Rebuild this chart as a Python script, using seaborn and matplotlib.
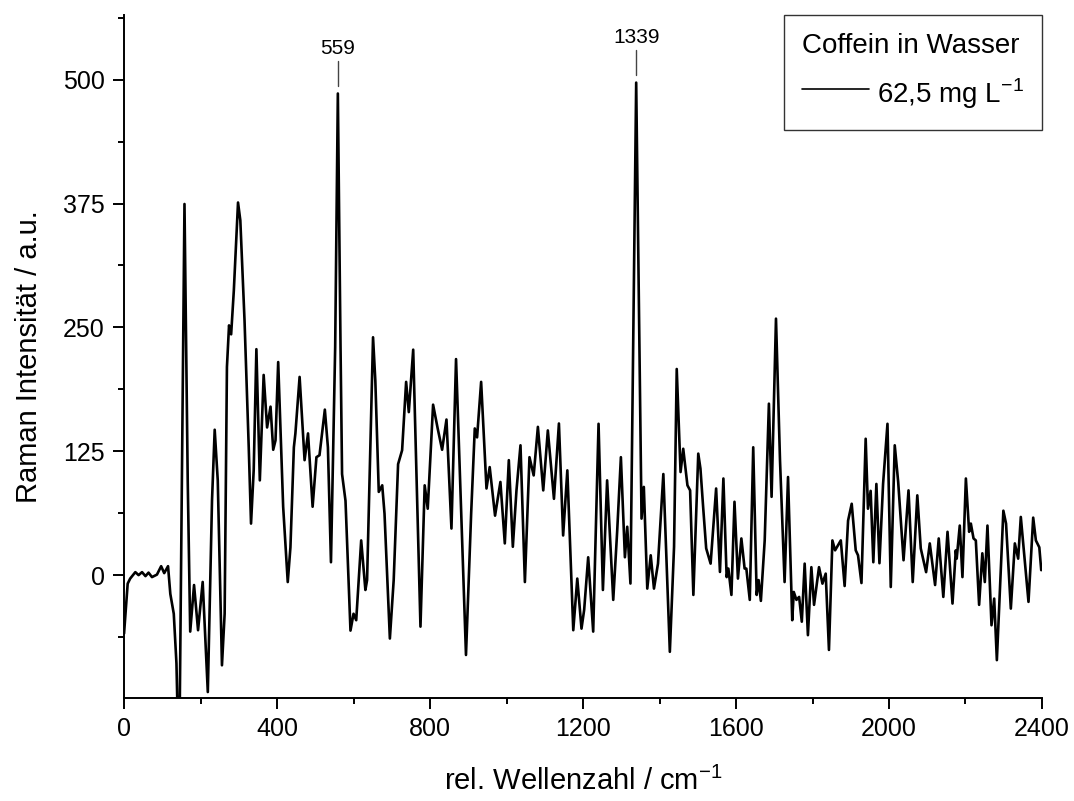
import matplotlib
matplotlib.use("Agg")
import matplotlib.pyplot as plt
import seaborn as sns
import pandas as pd
from matplotlib.ticker import MultipleLocator

# ---- data ----
wavenumber = [0, 9.5, 16, 29.5, 38, 47, 56, 64, 73, 86, 97, 105, 115, 121, 130, 137, 140, 145.5,
              158, 166.5, 173, 183, 193.5, 205.6, 219, 230, 237, 245, 256, 263, 269, 274.5, 280, 287,
              298, 304, 315, 326, 332, 339, 346, 355, 365, 374, 383, 390, 396, 403, 416, 428, 435,
              444, 448, 459, 472, 481, 493, 503, 511, 525, 533, 541, 552, 559, 566, 570, 579, 592,
              600, 607, 620, 631, 635.4, 651, 657, 666, 675, 681, 695, 705, 716.5, 727, 737.5, 744.5,
              756, 775, 786, 794, 808, 820, 831.6, 843, 856, 868, 894, 907.5, 917, 923, 933.6, 947.6,
              956, 970, 984, 995.5, 1006, 1016.5, 1026, 1036.5, 1048, 1060, 1071, 1082, 1096, 1108,
              1124, 1137, 1148, 1159, 1174.5, 1185, 1196, 1203, 1213.5, 1226.6, 1240.6, 1252, 1263,
              1279, 1289.4, 1299, 1309.5, 1315.6, 1324, 1339, 1353, 1359, 1368, 1377, 1385.5, 1396,
              1410, 1427, 1438, 1445, 1455, 1462, 1473, 1480, 1488.5, 1501.3, 1507, 1514, 1522,
              1533.6, 1548, 1558, 1567, 1575.5, 1580, 1588, 1596, 1605, 1614, 1622.5, 1627, 1636,
              1645, 1654, 1659, 1665, 1675, 1686, 1693, 1704.5, 1715, 1727, 1736, 1747, 1751, 1758,
              1765, 1772, 1779.5, 1788, 1797, 1804, 1817, 1826, 1834.5, 1843, 1852, 1859, 1874, 1884,
              1893, 1902.5, 1913, 1919, 1928, 1939, 1945, 1952, 1959, 1967, 1975, 1984.5, 1996,
              2004.6, 2015, 2024, 2038, 2051, 2062, 2074, 2083, 2097, 2106.6, 2120.5, 2130, 2142,
              2153, 2166, 2174.6, 2177, 2185, 2192, 2201, 2209.5, 2214, 2221, 2227, 2235.6, 2244,
              2250.5, 2257.4, 2268, 2275, 2282, 2299, 2306, 2318.5, 2329, 2337.7, 2344.6, 2353,
              2364.7, 2377, 2384, 2393, 2398]
intensity = [-59, -8.6, -3.5, 3, 0, 3, -1, 2.5, -2, 0.5, 9, 2, 9, -19, -39, -89, -140, -140,
             374.5, 95, -57, -10, -55.6, -6.9, -118, 75.5, 146.7, 95.6, -91, -39, 210, 252, 243, 287,
             376, 358, 257, 129, 52, 106, 228, 95.6, 202, 149, 170, 126.5, 136, 215, 69, -7, 28,
             129, 143, 200, 116, 143, 69, 119, 121, 167, 129, 13, 230, 486, 230, 102, 75, -56,
             -39, -45.5, 35, -15, -5, 240, 196, 84, 90.6, 62, -64, -5, 112, 126, 195, 164.5,
             227.5, -52, 90.6, 67, 172, 148, 126.5, 157, 47, 218, -80.6, 62, 148, 139, 195, 87.4,
             109, 60, 94, 32, 116, 28.6, 85.5, 131, -7, 119, 100.6, 149.6, 85.5, 146,
             77, 153, 40, 105.7, -55.6, -3.5, -54, -35, 18, -57, 152.7, -15, 95.6,
             -25, 45, 119, 18, 48.8, -8.5, 497, 57, 89, -13.6, 20, -13.6, 11.6,
             102, -77.4, 28.6, 208, 104, 127.5, 90.6, 85.5, -20, 122.6, 107.5, 69, 27,
             11.6, 87.4, 3.2, 97.5, -2, 6.6, -20, 74, -3.5, 37, 6.6, 6.6, -25,
             129, -20, -5, -26, 35, 173, 79, 258.8, 116, -7, 99, -45.5, -17, -25,
             -22, -47, 11.6, -60.6, 8, -30, 8, -8.6, 1.5, -75.5, 35, 25, 35, -11,
             55, 72, 25, 20, -8, 137.6, 67, 85, 13, 92, 12, 92, 152.7,
             -12, 131, 94, 15, 85.5, -7, 80.5, 27, 3, 32, -10, 37, -22,
             43.7, -28.7, 25, 16.6, 50, -2, 97.5, 43.7, 52, 37, 35, -30, 22,
             -7, 50, -50.6, -23.7, -85.8, 65, 52, -33.8, 32, 16.6, 58.7, 23,
             -27, 58, 35, 28, 5]

peak_positions = [559, 1339]
peak_labels = ["559", "1339"]
peak_heights = [486, 497]

series_label = "62,5 mg L$^{\\mathregular{-1}}$"
legend_title = "Coffein in Wasser"
x_label = "rel. Wellenzahl / cm$^{\\mathregular{-1}}$"
y_label = "Raman Intensität / a.u."
x_ticks = [0, 400, 800, 1200, 1600, 2000, 2400]
y_ticks = [0, 125, 250, 375, 500]

df = pd.DataFrame({"x": wavenumber, "y": intensity})

sns.set_theme(style="ticks")
plt.rcParams["font.family"] = ["Liberation Sans", "DejaVu Sans"]
plt.rcParams["mathtext.fontset"] = "custom"
plt.rcParams["mathtext.rm"] = "Liberation Sans"
plt.rcParams["text.color"] = "black"
plt.rcParams["axes.labelcolor"] = "black"
plt.rcParams["legend.labelcolor"] = "black"

fig = plt.figure(figsize=(10.74, 8.01), dpi=100)
ax = fig.add_axes([0.1155, 0.1286, 0.8547, 0.8524])

sns.lineplot(data=df, x="x", y="y", ax=ax, color="black", linewidth=1.9,
             estimator=None, sort=False, label=series_label)

ax.set_xlim(0, 2400)
ax.set_ylim(-124, 565)

ax.set_xticks(x_ticks)
ax.set_yticks(y_ticks)
ax.xaxis.set_minor_locator(MultipleLocator(200))
ax.yaxis.set_minor_locator(MultipleLocator(62.5))
ax.tick_params(which="major", direction="out", length=8, width=1.4, labelsize=18,
               colors="black", pad=6)
ax.tick_params(which="minor", direction="out", length=4.5, width=1.4, colors="black")

for s in ["top", "right"]:
    ax.spines[s].set_visible(False)
for s in ["left", "bottom"]:
    ax.spines[s].set_linewidth(1.4)
    ax.spines[s].set_color("black")

ax.set_xlabel(x_label, fontsize=21, labelpad=18, color="black")
ax.set_ylabel(y_label, fontsize=21, labelpad=14, color="black")

for pos, lab, h in zip(peak_positions, peak_labels, peak_heights):
    ax.plot([pos, pos], [h + 8, h + 33], color="#444444", linewidth=1.0)
    ax.text(pos, h + 36, lab, ha="center", va="bottom", fontsize=15, color="black")

leg = ax.legend(title=legend_title, loc="upper right", bbox_to_anchor=(1.0, 1.0),
                fontsize=20, title_fontsize=20, frameon=True, fancybox=False,
                edgecolor="black", borderaxespad=0, handlelength=2.4,
                handletextpad=0.3, borderpad=0.65, labelspacing=0.3, handleheight=1.6)
leg.get_frame().set_linewidth(1.0)
leg.get_title().set_color("black")
for t in leg.get_texts():
    t.set_color("black")
leg._legend_box.align = "left"
leg._legend_box.sep = 12
for line in leg.get_lines():
    line.set_linewidth(1.2)

fig.savefig("out.png", dpi=100)
